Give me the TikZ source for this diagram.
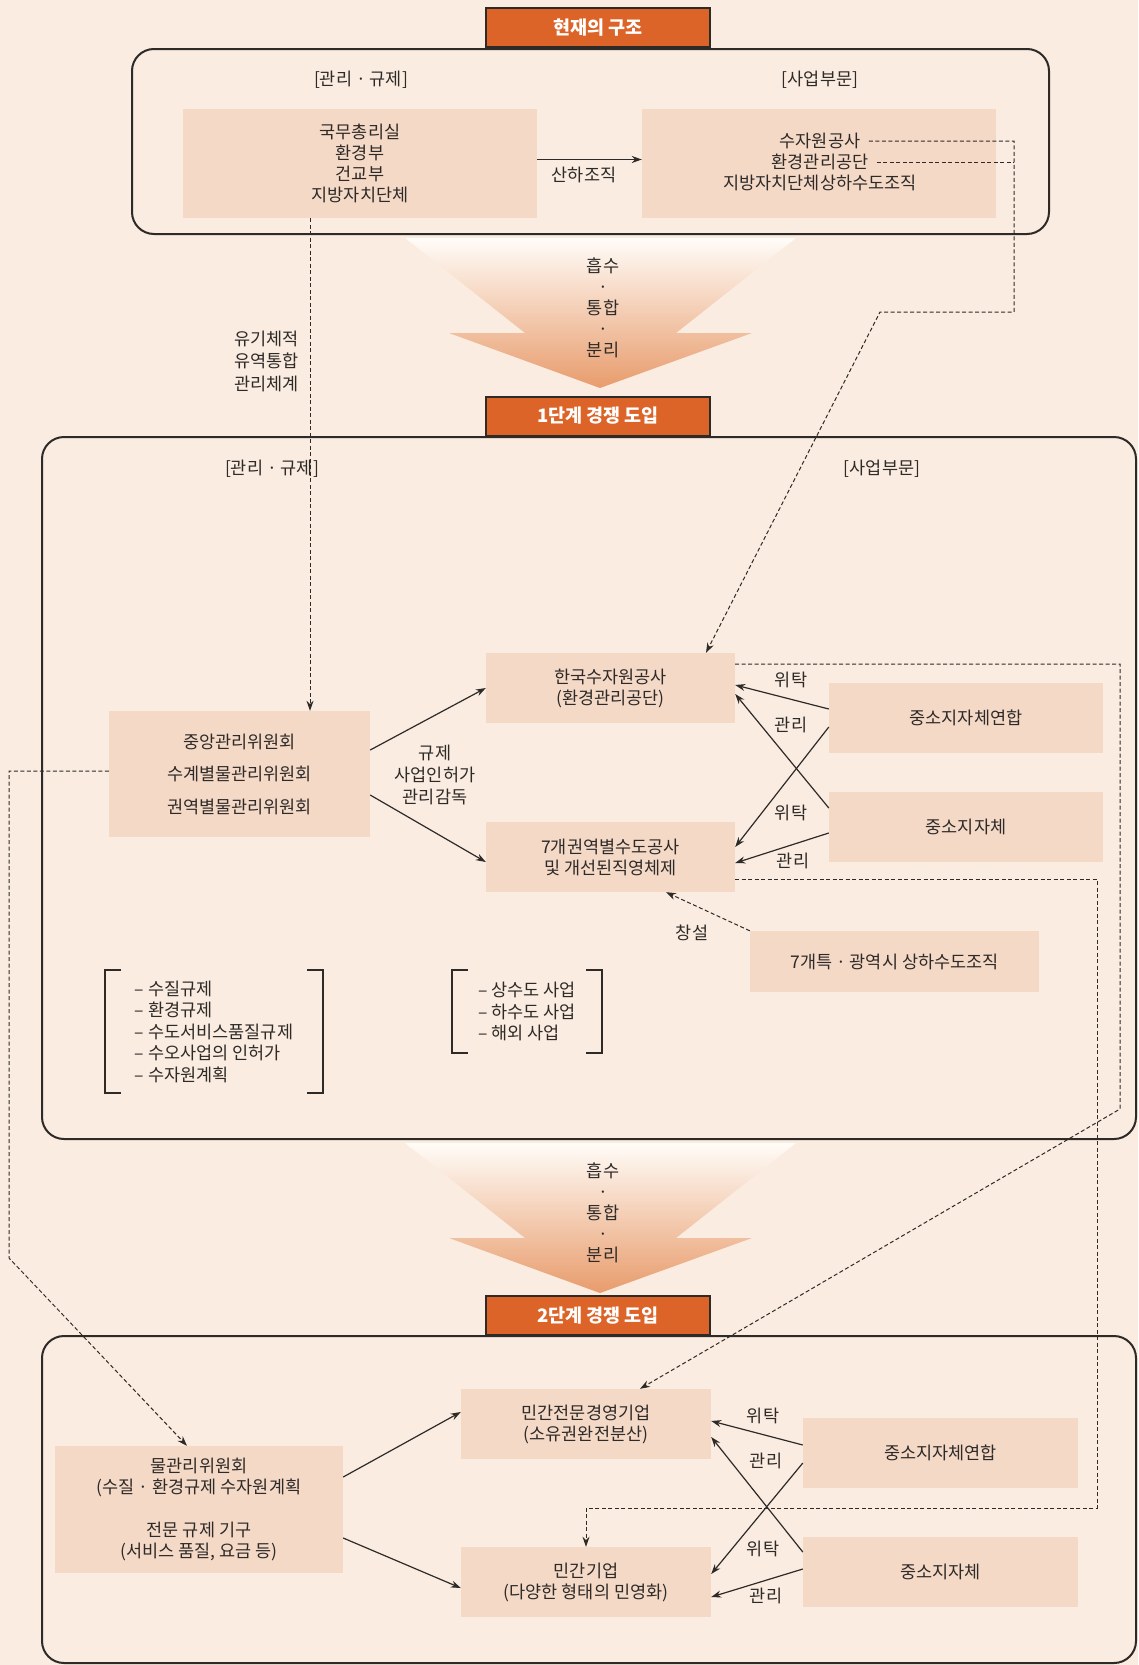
\documentclass[tikz,border=0pt]{standalone}
\usepackage{fontspec}
\setmainfont{Noto Sans CJK KR}
\usetikzlibrary{arrows.meta}
\definecolor{bgpeach}{HTML}{FAECE0}
\definecolor{boxpeach}{HTML}{F5D9C7}
\definecolor{headorange}{HTML}{DC6428}
\definecolor{inkdark}{HTML}{2E2A28}
\definecolor{funneltop}{HTML}{FFFCF8}
\definecolor{funnelbot}{HTML}{E89C6C}
\begin{document}
\begin{tikzpicture}[x=1pt, y=-1pt,
    font=\fontsize{17.5}{21}\selectfont, text=inkdark,
    box/.style={fill=boxpeach, inner sep=0pt, align=center},
    head/.style={fill=headorange, draw=inkdark, line width=2pt, text=white,
      font=\bfseries\fontsize{18.5}{21}\selectfont, minimum width=224pt, minimum height=39pt},
    frame/.style={draw=inkdark, line width=2pt, rounded corners=22pt},
    conn/.style={draw=inkdark, line width=1.2pt, -{Stealth[length=10pt,width=7pt]}},
    dashconn/.style={conn, line width=1pt, dash pattern=on 4pt off 2.5pt},
    brk/.style={draw=inkdark, line width=1.5pt},
    lst/.style={align=left, font=\fontsize{17.5}{21.5}\selectfont}]
    % page
    \useasboundingbox (0,0) rectangle (1138,1665);
    \fill[bgpeach] (0,0) rectangle (1138,1665);

    % frames of the three stages
    \draw[frame] (132,49) rectangle (1049,234);
    \draw[frame] (42,437) rectangle (1136,1139);
    \draw[frame] (42,1336) rectangle (1136,1663);

    % funnel arrows between stages
    \foreach \dy in {0,905} {
        \shade[top color=funneltop, bottom color=funnelbot]
            (405,238+\dy) -- (796,238+\dy) -- (676,333+\dy) -- (752,333+\dy)
            -- (600,388+\dy) -- (449,333+\dy) -- (525,333+\dy) -- cycle;
        \node[align=center] (fun\dy) at (603,308+\dy) {흡수\\·\\통합\\·\\분리};
    }

    \node[head] (now) at (598,27.5) {현재의 구조};
    \node[head] (st1) at (598,416) {1단계 경쟁 도입};
    \node[head] (st2) at (598,1315.5) {2단계 경쟁 도입};

    % current structure
    \node (mr0) at (361,80) {[관리 · 규제]};
    \node (bs0) at (820,80) {[사업부문]};
    \node[box, minimum width=354pt, minimum height=109pt] (gov) at (360,163.5) {국무총리실\\환경부\\건교부\\지방자치단체};
    \node[box, minimum width=354pt, minimum height=109pt] (biz) at (819,163.5) {};
    \node (sw) at (820,141) {수자원공사};
    \node (em) at (820,162) {환경관리공단};
    \node (lg) at (820,183) {지방자치단체상하수도조직};
    \draw[conn] ([yshift=4pt]gov.east) -- ([yshift=4pt]biz.west);
    \node (sub) at (584,175) {산하조직};

    % stage 1
    \node (mr1) at (272,469) {[관리 · 규제]};
    \node (bs1) at (882,469) {[사업부문]};
    \node[box, minimum width=261pt, minimum height=126pt, font=\fontsize{17.5}{32.5}\selectfont] (cm) at (239.5,774) {중앙관리위원회\\수계별물관리위원회\\권역별물관리위원회};
    \node[box, minimum width=249pt, minimum height=70pt] (kw) at (610.5,688) {한국수자원공사\\(환경관리공단)};
    \node[box, minimum width=249pt, minimum height=70pt] (r7) at (610.5,857) {7개권역별수도공사\\및 개선된직영체제};
    \node[box, minimum width=274pt, minimum height=70pt] (ya) at (966,718) {중소지자체연합};
    \node[box, minimum width=274pt, minimum height=70pt] (jj) at (966,827) {중소지자체};
    \node[box, minimum width=289pt, minimum height=61pt] (gw) at (894.5,961.5) {7개특 · 광역시 상하수도조직};

    \draw[conn] ([yshift=24pt]cm.east) -- (kw.west);
    \draw[conn] ([yshift=-21pt]cm.east) -- ([yshift=-5pt]r7.west);
    \node[align=center, font=\fontsize{17.5}{22}\selectfont] (rule) at (435,775) {규제\\사업인허가\\관리감독};
    \draw[conn] ([yshift=9pt]ya.west) -- ([yshift=3pt]kw.east);
    \draw[conn] ([yshift=-9pt]ya.west) -- ([yshift=10pt]r7.east);
    \draw[conn] ([yshift=19pt]jj.west) -- ([yshift=-6pt]kw.east);
    \draw[conn] ([yshift=-6pt]jj.west) -- ([yshift=-6pt]r7.east);
    \node (w1) at (791,680) {위탁};
    \node (g1) at (791,725) {관리};
    \node (w2) at (791,813) {위탁};
    \node (g2) at (793,861) {관리};
    \draw[dashconn] (gw.north west) -- ([xshift=55.5pt]r7.south);
    \node (new) at (692,933) {창설};

    \node[lst, minimum width=218pt, minimum height=123pt] (reg) at (214,1031.5) {– 수질규제\\– 환경규제\\– 수도서비스품질규제\\– 수오사업의 인허가\\– 수자원계획};
    \draw[brk] ([xshift=16pt]reg.north west) -- (reg.north west) -- (reg.south west) -- ([xshift=16pt]reg.south west);
    \draw[brk] ([xshift=-16pt]reg.north east) -- (reg.north east) -- (reg.south east) -- ([xshift=-16pt]reg.south east);
    \node[lst, minimum width=150pt, minimum height=83pt] (ops) at (527,1011.5) {– 상수도 사업\\– 하수도 사업\\– 해외 사업};
    \draw[brk] ([xshift=16pt]ops.north west) -- (ops.north west) -- (ops.south west) -- ([xshift=16pt]ops.south west);
    \draw[brk] ([xshift=-16pt]ops.north east) -- (ops.north east) -- (ops.south east) -- ([xshift=-16pt]ops.south east);

    % stage 2
    \node[box, minimum width=288pt, minimum height=127pt] (mg) at (199,1509.5) {물관리위원회\\(수질 · 환경규제 수자원계획\\[22pt]전문 규제 기구\\(서비스 품질, 요금 등)};
    \node[box, minimum width=250pt, minimum height=70pt] (pe) at (586,1424) {민간전문경영기업\\(소유권완전분산)};
    \node[box, minimum width=250pt, minimum height=70pt] (pv) at (586,1582) {민간기업\\(다양한 형태의 민영화)};
    \node[box, minimum width=275pt, minimum height=70pt] (ya2) at (940.5,1453) {중소지자체연합};
    \node[box, minimum width=275pt, minimum height=70pt] (jj2) at (940.5,1572) {중소지자체};

    \draw[conn] ([yshift=32.5pt]mg.east) -- ([yshift=12pt]pe.west);
    \draw[conn] ([yshift=-28.5pt]mg.east) -- ([yshift=-6pt]pv.west);
    \draw[conn] ([yshift=8pt]ya2.west) -- ([yshift=3pt]pe.east);
    \draw[conn] ([yshift=-10pt]ya2.west) -- ([yshift=8pt]pv.east);
    \draw[conn] ([yshift=20pt]jj2.west) -- ([yshift=-13pt]pe.east);
    \draw[conn] ([yshift=3pt]jj2.west) -- ([yshift=-15pt]pv.east);
    \node (w3) at (763,1416) {위탁};
    \node (g3) at (766,1461) {관리};
    \node (w4) at (763,1549) {위탁};
    \node (g4) at (766,1596) {관리};

    % dashed links between the stages
    \coordinate (swturn) at (1014,312);
    \coordinate (swbend) at (880,312);
    \draw[dashconn] ([xshift=5pt]sw.east) -| (swturn) -- (swbend) -- ([xshift=95.5pt]kw.north);
    \draw[dashconn, -] ([xshift=5pt]em.east) -- (em.east -| swturn);
    \draw[dashconn] ([xshift=-50pt]gov.south) -- ([xshift=70.5pt]cm.north);
    \node[align=right, anchor=east, font=\fontsize{17.5}{22.5}\selectfont] (org) at (302,361) {유기체적\\유역통합\\관리체계};

    \coordinate (kwturn) at (1120,1109);
    \draw[dashconn] ([yshift=24pt]kw.east) -| (kwturn) -- ([xshift=54pt]pe.north);
    \coordinate (r7turn) at (1097,1508);
    \draw[dashconn] ([yshift=-22pt]r7.east) -| (r7turn) -| (pv.north);
    \coordinate (cmturn) at (9,1258);
    \draw[dashconn] ([yshift=3pt]cm.west) -| (cmturn) -- ([xshift=-12pt]mg.north);
\end{tikzpicture}
\end{document}
